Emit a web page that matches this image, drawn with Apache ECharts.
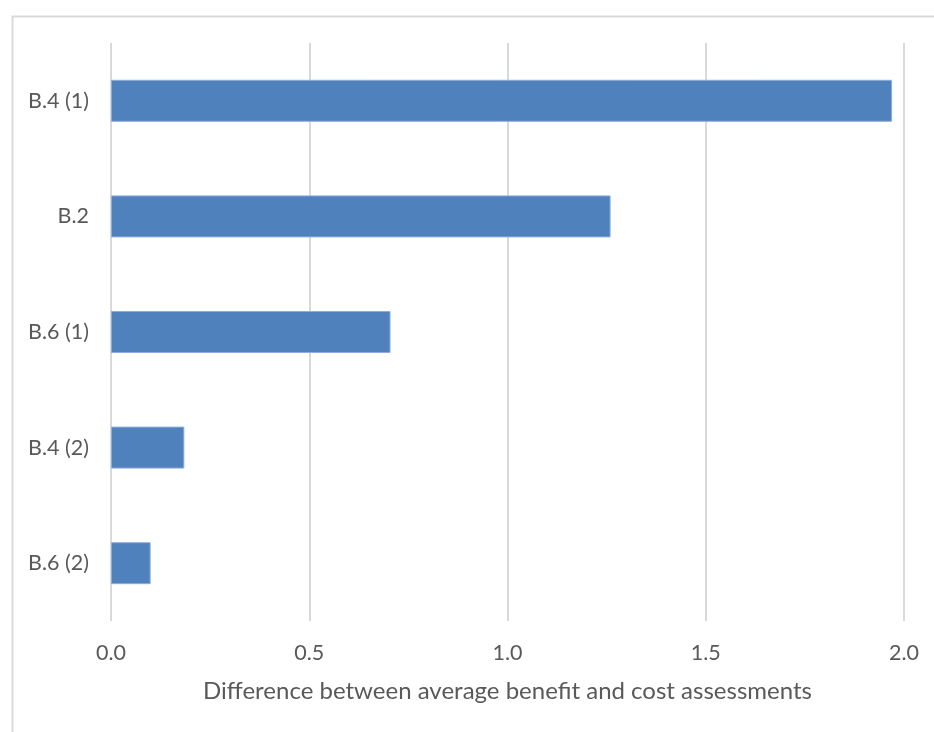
<!DOCTYPE html>
<html>
<head>
<meta charset="utf-8">
<script src="https://cdn.jsdelivr.net/npm/echarts@6/dist/echarts.min.js"></script>
<style>html,body{margin:0;padding:0;background:#fff}#c{width:934px;height:732px}</style>
</head>
<body>
<div id="c"></div>
<script>
const categories = ["B.4 (1)", "B.2", "B.6 (1)", "B.4 (2)", "B.6 (2)"];
const values = [1.97, 1.26, 0.705, 0.185, 0.10];
const xTicks = { min: 0, max: 2, interval: 0.5 };
const xName = "Difference between average benefit and cost assessments";

const chart = echarts.init(document.getElementById('c'), null, { renderer: 'canvas' });
const font = 'Lato, "Open Sans", sans-serif';
chart.setOption({
  animation: false,
  backgroundColor: '#fff',
  graphic: [{
    type: 'rect', left: 10, top: 14, silent: true, z: -10,
    shape: { width: 960, height: 760 },
    style: { fill: 'none', stroke: '#d9d9d9', lineWidth: 2 }
  }],
  grid: { left: 111, right: 30, top: 43, bottom: 111, containLabel: false },
  xAxis: {
    type: 'value', min: xTicks.min, max: xTicks.max, interval: xTicks.interval,
    name: xName, nameLocation: 'middle', nameGap: 58,
    nameTextStyle: { color: '#595959', fontSize: 24, fontFamily: font },
    axisLine: { show: false }, axisTick: { show: false },
    axisLabel: { color: '#595959', fontSize: 21.5, fontFamily: font, margin: 21,
      formatter: v => v.toFixed(1) },
    splitLine: { show: true, lineStyle: { color: '#d9d9d9', width: 2 } }
  },
  yAxis: {
    type: 'category', data: categories, inverse: true,
    axisLine: { show: false }, axisTick: { show: false },
    axisLabel: { color: '#595959', fontSize: 21.5, fontFamily: font, margin: 22 },
    splitLine: { show: false }
  },
  series: [{
    type: 'bar', data: values, barWidth: 42,
    itemStyle: { color: '#4f81bd', borderColor: '#8eaedb', borderWidth: 1 }
  }]
});
</script>
</body>
</html>
